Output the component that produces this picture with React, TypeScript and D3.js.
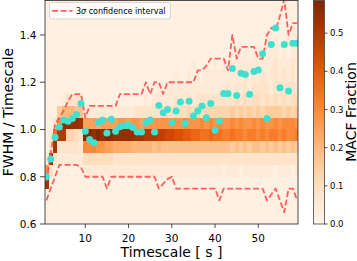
import React from "react";
import * as d3 from "d3";

const timescales = [1,2,3,4,5,6,7,8,9,10,11,12,13,14,15,16,17,18,19,20,21,22,23,24,25,26,27,28,29,30,31,32,33,34,35,36,37,38,39,40,41,42,43,44,45,46,47,48,49,50,51,52,53,54,55,56,57,58,59];

const ratioValues = [0.80,0.875,0.967,1.01,1.04,1.035,1.046,1.063,1.11,0.993,0.958,0.944,1.03,1.04,0.985,1.043,0.993,1.012,1.017,1.017,1.008,0.989,0.989,1.029,1.04,0.989,1.102,1.071,1.085,1.031,1.078,1.116,1.025,1.119,1.057,1.078,1.099,1.05,1.11,0.997,1.036,1.152,1.152,1.258,1.144,1.238,1.233,1.149,1.245,1.252,1.321,1.046,1.36,1.43,1.177,1.36,1.163,1.365,1.365];

const upperCI = [0.78,0.90,1.02,1.05,1.08,1.12,1.15,1.15,1.15,1.05,1.10,1.10,1.10,1.10,1.10,1.10,1.10,1.15,1.15,1.15,1.15,1.15,1.15,1.20,1.15,1.20,1.20,1.15,1.20,1.20,1.20,1.20,1.20,1.20,1.20,1.25,1.25,1.27,1.30,1.30,1.30,1.30,1.25,1.40,1.30,1.35,1.35,1.35,1.35,1.30,1.30,1.40,1.43,1.42,1.48,1.55,1.40,1.45,1.45];

const lowerCI = [0.70,0.75,0.80,0.85,0.85,0.85,0.85,0.85,0.84,0.80,0.80,0.80,0.80,0.80,0.75,0.80,0.80,0.80,0.80,0.80,0.80,0.80,0.80,0.80,0.80,0.80,0.75,0.77,0.79,0.80,0.75,0.75,0.75,0.75,0.75,0.75,0.75,0.75,0.75,0.75,0.70,0.75,0.75,0.75,0.75,0.75,0.75,0.75,0.75,0.75,0.75,0.70,0.725,0.75,0.70,0.65,0.75,0.75,0.70];

const binEdges = [0.6,0.65,0.7,0.75,0.8,0.85,0.9,0.95,1.0,1.05,1.1,1.15,1.2,1.25,1.3,1.35,1.4,1.45,1.5,1.55];

// MACF fraction per cell, top row first; each char = base-36 digit / 40
const fractionRows = [
  "111"+"111111"+"1111111111"+"1111111111"+"1111111111"+"1111111111"+"1111111111",
  "111"+"111111"+"1111111111"+"1111111111"+"1111111111"+"1111111111"+"1111111111",
  "111"+"111111"+"1111111111"+"1111111111"+"1111111111"+"1111111111"+"1111111121",
  "111"+"111111"+"1111111111"+"1111111111"+"1111111111"+"1111111111"+"1121211212",
  "111"+"111111"+"1111111111"+"1111111111"+"1111111111"+"1111121212"+"2122212122",
  "111"+"111111"+"1111111111"+"1111111111"+"1111121111"+"2121222222"+"2222322232",
  "111"+"111111"+"1111111111"+"1111111111"+"1211212122"+"2222222322"+"2322323232",
  "111"+"111111"+"1111111111"+"1111111212"+"2222222222"+"2223232323"+"3332333333",
  "111"+"123333"+"1111111111"+"1111212222"+"2322323333"+"3333343434"+"4343434344",
  "111"+"688877"+"2222222222"+"2233333344"+"4444545455"+"5555656565"+"6566665656",
  "113"+"cmmmml"+"aaa9aaaabb"+"abbabbbbbb"+"bbbcbbbcbc"+"bcbbcbcbbc"+"bcbbcbcccb",
  "12e"+"kk5543"+"nnmnmnnmmm"+"mmllkkkjji"+"ihhggffeef"+"eeddeddcdd"+"cdcddcdccd",
  "13l"+"333332"+"cccbbaa999"+"9888887877"+"7777777777"+"7777676767"+"7676767676",
  "2l3"+"222222"+"4444444333"+"3333333333"+"3333333333"+"3333333333"+"3333333333",
  "b31"+"111111"+"2222222222"+"2222222222"+"2222222222"+"2212221222"+"2222122212",
  "l11"+"111111"+"1111111111"+"1111111111"+"1111111111"+"1111111111"+"1111111111",
  "111"+"111111"+"1111111111"+"1111111111"+"1111111111"+"1111111111"+"1111111111",
  "111"+"111111"+"1111111111"+"1111111111"+"1111111111"+"1111111111"+"1111111111",
  "111"+"111111"+"1111111111"+"1111111111"+"1111111111"+"1111111111"+"1111111111",
];

const xTicks = [10, 20, 30, 40, 50];
const yTicks = [0.6, 0.8, 1.0, 1.2, 1.4];
const cbTicks = [0.0, 0.1, 0.2, 0.3, 0.4, 0.5];
const vmax = 0.587;

const FONT = "DejaVu Sans, sans-serif";
const CI_COLOR = "#ff5050";

export default function App() {
  const W = 357, H = 261;
  const L = 45, R = 298, T = 0.5, B = 224;
  const x = d3.scaleLinear().domain([0.68, 59.18]).range([L, R]);
  const y = d3.scaleLinear().domain([0.6, 1.548]).range([B, 0]);
  const color = d3.scaleSequential(d3.interpolateOranges).domain([0, vmax]);
  const cbX0 = 313.5, cbX1 = 324.5, cbT = 0.5, cbB = 224;
  const cy = d3.scaleLinear().domain([0, vmax]).range([cbB, 0]);

  const nRows = fractionRows.length;
  const cells: any[] = [];
  fractionRows.forEach((row, i) => {
    const r = nRows - 1 - i;
    const lo = binEdges[r], hi = binEdges[r + 1];
    for (let j = 0; j < row.length; j++) {
      const t = timescales[j];
      const v = parseInt(row[j], 36) / 40;
      const x0 = x(t - 0.5), x1 = x(t + 0.5);
      cells.push(
        <rect key={`c${i}-${j}`} x={x0} y={y(hi)} width={x1 - x0 + 0.3} height={y(lo) - y(hi) + 0.3} fill={color(v)} />
      );
    }
  });

  const line = d3.line<number>().x((_, i) => x(timescales[i])).y((d) => y(d));

  const stops = d3.range(0, 1.0001, 0.05);

  return (
    <svg width={W} height={H} style={{ position: "absolute", left: 0, top: 0, background: "#fff" }} fontFamily={FONT}>
      <defs>
        <clipPath id="plotclip">
          <rect x={L} y={T} width={R - L} height={B - T} />
        </clipPath>
        <linearGradient id="cbgrad" x1="0" y1="1" x2="0" y2="0">
          {stops.map((s) => (
            <stop key={s} offset={s} stopColor={d3.interpolateOranges(s)} />
          ))}
        </linearGradient>
      </defs>
      <g clipPath="url(#plotclip)">
        <g shapeRendering="crispEdges">{cells}</g>
        <path d={line(upperCI) || ""} fill="none" stroke={CI_COLOR} strokeOpacity={0.9} strokeWidth={1.8} strokeDasharray="6,2.6" strokeLinejoin="round" />
        <path d={line(lowerCI) || ""} fill="none" stroke={CI_COLOR} strokeOpacity={0.9} strokeWidth={1.8} strokeDasharray="6,2.6" strokeLinejoin="round" />
        {ratioValues.map((v, i) => (
          <circle key={`d${i}`} cx={x(timescales[i])} cy={y(v)} r={3.5} fill="#40e0d0" />
        ))}
      </g>
      <rect x={L} y={T} width={R - L} height={B - T} fill="none" stroke="#222" strokeWidth={0.8} />
      {yTicks.map((v) => (
        <g key={`yt${v}`}>
          <line x1={L - 5} x2={L} y1={y(v)} y2={y(v)} stroke="#222" strokeWidth={0.8} />
          <text x={L - 8.5} y={y(v) + 3.8} fontSize={10.5} textAnchor="end" fill="#000">{v.toFixed(1)}</text>
        </g>
      ))}
      {xTicks.map((v) => (
        <g key={`xt${v}`}>
          <line x1={x(v)} x2={x(v)} y1={B} y2={B + 4} stroke="#222" strokeWidth={0.8} />
          <text x={x(v)} y={241.5} fontSize={10.5} textAnchor="middle" fill="#000">{v}</text>
        </g>
      ))}
      <text x={(L + R) / 2} y={257} fontSize={14} textAnchor="middle" fill="#000">Timescale [ s ]</text>
      <text transform={`translate(13,112) rotate(-90)`} fontSize={14} textAnchor="middle" fill="#000">FWHM / Timescale</text>

      <g>
        <rect x={49.5} y={2.5} width={121} height={16.5} rx={2} fill="#fff" fillOpacity={0.8} stroke="#cccccc" strokeWidth={0.8} />
        <line x1={52} x2={72.5} y1={10.8} y2={10.8} stroke={CI_COLOR} strokeOpacity={0.9} strokeWidth={1.8} strokeDasharray="6,2.6" />
        <text x={76} y={13.8} fontSize={8} fill="#000">3<tspan fontStyle="italic">σ</tspan> confidence interval</text>
      </g>

      <rect x={cbX0} y={cbT} width={cbX1 - cbX0} height={cbB - cbT} fill="url(#cbgrad)" />
      <rect x={cbX0} y={cbT} width={cbX1 - cbX0} height={cbB - cbT} fill="none" stroke="#444" strokeWidth={0.8} />
      {cbTicks.map((v) => (
        <g key={`ct${v}`}>
          <line x1={cbX1} x2={cbX1 + 3} y1={cy(v)} y2={cy(v)} stroke="#222" strokeWidth={0.8} />
          <text x={330} y={cy(v) + 3} fontSize={8.5} fill="#000">{v.toFixed(1)}</text>
        </g>
      ))}
      <text transform={`translate(355.5,112) rotate(-90)`} fontSize={14} textAnchor="middle" fill="#000">MACF Fraction</text>
    </svg>
  );
}
